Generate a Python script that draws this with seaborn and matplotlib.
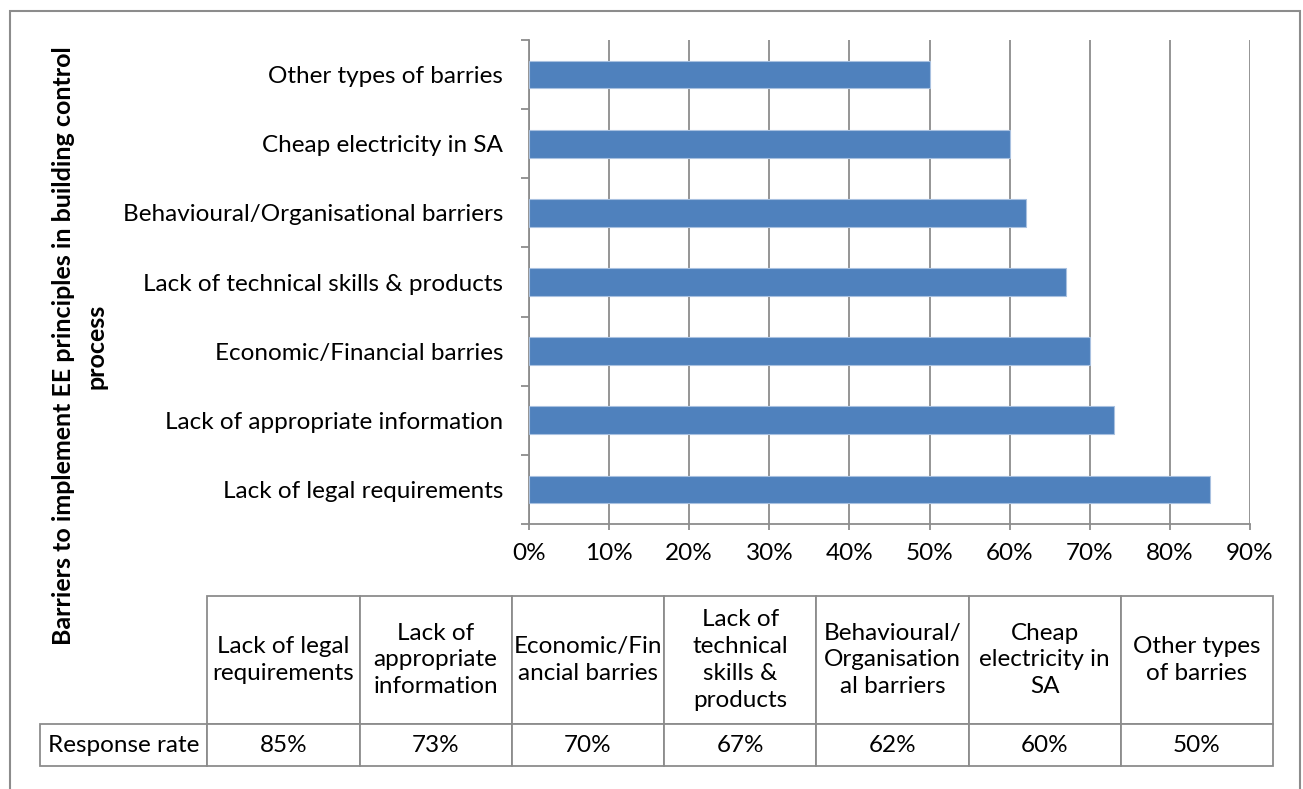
import matplotlib
matplotlib.use("Agg")
import matplotlib.pyplot as plt
import matplotlib.patches as mpatches
from matplotlib.ticker import FuncFormatter, FixedLocator
import seaborn as sns
import pandas as pd

# Survey results: barriers to implementing energy-efficiency principles
categories = [
    "Lack of legal requirements",
    "Lack of appropriate information",
    "Economic/Financial barries",
    "Lack of technical skills & products",
    "Behavioural/Organisational barriers",
    "Cheap electricity in SA",
    "Other types of barries",
]
response_rate = [85, 73, 70, 67, 62, 60, 50]

# Wrapped headings used in the data table underneath the chart
table_headers = [
    "Lack of legal\nrequirements",
    "Lack of\nappropriate\ninformation",
    "Economic/Fin\nancial barries",
    "Lack of\ntechnical\nskills &\nproducts",
    "Behavioural/\nOrganisation\nal barriers",
    "Cheap\nelectricity in\nSA",
    "Other types\nof barries",
]
row_label = "Response rate"
x_ticks = [0, 10, 20, 30, 40, 50, 60, 70, 80, 90]
y_axis_title = "Barriers to implement EE principles in building control\nprocess"

sns.set_theme(style="white")
plt.rcParams["font.family"] = ["Lato", "DejaVu Sans"]

BAR_COLOR = "#4F81BD"
GRID_COLOR = "#8C8C8C"
TEXT_COLOR = "#000000"
FS = 17.5

W, H = 1303, 789
fig = plt.figure(figsize=(W / 100, H / 100), dpi=100)
fig.patch.set_facecolor("white")

def fx(px):
    return px / W

def fy(py):
    return 1 - py / H

# Main bar axes
left, right, top, bottom = 529, 1250, 40, 524
ax = fig.add_axes([fx(left), fy(bottom), fx(right - left), (bottom - top) / H])

df = pd.DataFrame({"barrier": categories, "rate": response_rate})
sns.barplot(
    data=df, x="rate", y="barrier", order=categories[::-1],
    orient="h", color=BAR_COLOR, width=0.4, saturation=1,
    edgecolor="#A9C1E0", linewidth=0.8, ax=ax, zorder=3,
)

ax.set_xlim(x_ticks[0], x_ticks[-1])
ax.set_ylim(len(categories) - 0.5, -0.5)
ax.xaxis.set_major_locator(FixedLocator(x_ticks))
ax.xaxis.set_major_formatter(FuncFormatter(lambda v, p: f"{v:.0f}%"))
ax.grid(axis="x", color=GRID_COLOR, linewidth=1.3, zorder=0)
ax.set_axisbelow(True)
ax.set_xlabel("")
ax.set_ylabel("")

for side in ("top", "right"):
    ax.spines[side].set_visible(False)
for side in ("left", "bottom"):
    ax.spines[side].set_color(GRID_COLOR)
    ax.spines[side].set_linewidth(1.3)

# Category labels with tick marks on the category boundaries
ax.tick_params(axis="y", which="major", length=0, pad=18.5,
               labelsize=FS, labelcolor=TEXT_COLOR)
ax.set_yticks([b - 0.5 for b in range(len(categories) + 1)], minor=True)
ax.tick_params(axis="y", which="minor", length=6, width=1.3,
               color=GRID_COLOR, direction="out", left=True)
ax.tick_params(axis="x", which="major", length=4.5, width=1.3,
               color=GRID_COLOR, direction="out", bottom=True,
               pad=9, labelsize=FS, labelcolor=TEXT_COLOR)

# Rotated axis title
fig.text(fx(80), fy(346), y_axis_title, rotation=90, ha="center",
         va="center", multialignment="center", fontsize=FS + 0.5,
         fontweight="bold", color=TEXT_COLOR, linespacing=1.5)

# Data table below the chart; first column holds the row label
tab_left, tab_right, tab_top, tab_bottom = 40, 1273, 596, 766
tax = fig.add_axes([fx(tab_left), fy(tab_bottom),
                    fx(tab_right - tab_left), (tab_bottom - tab_top) / H])
tax.axis("off")
cell_text = [[row_label] + [f"{v}%" for v in response_rate]]
tbl = tax.table(cellText=cell_text, colLabels=[""] + table_headers,
                cellLoc="center", bbox=[0, 0, 1, 1])
tbl.auto_set_font_size(False)
tbl.set_fontsize(FS)
for (r, c), cell in tbl.get_celld().items():
    cell.set_edgecolor(GRID_COLOR)
    cell.set_linewidth(1.3)
    cell.set_width(167 if c == 0 else 152)
    cell.set_height(128 if r == 0 else 42)
    cell.get_text().set_color(TEXT_COLOR)
    cell.get_text().set_linespacing(1.35)
    cell.PAD = 0.02
    if r == 0 and c == 0:
        cell.visible_edges = ""
tbl[0, 0].set_facecolor("none")

# Chart frame
frame = mpatches.Rectangle((fx(10), -0.05), fx(1300 - 10), fy(11) + 0.05,
                           transform=fig.transFigure, fill=False,
                           edgecolor=GRID_COLOR, linewidth=1.5)
fig.patches.append(frame)

fig.savefig("out.png", dpi=100, facecolor="white")
